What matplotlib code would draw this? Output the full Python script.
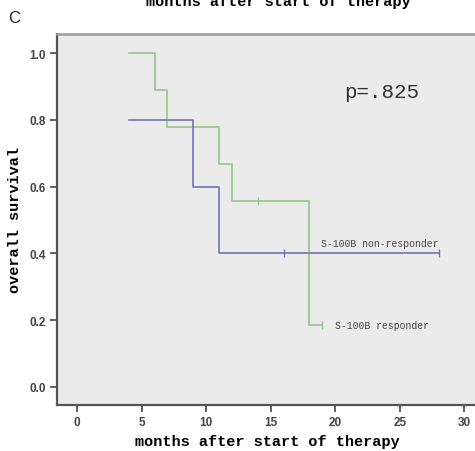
import matplotlib
matplotlib.use("Agg")
import matplotlib.pyplot as plt

# Kaplan-Meier estimates: event times and survival after each step
responder_times = [4, 6, 7, 11, 12, 18]
responder_surv = [1.0, 0.889, 0.778, 0.667, 0.556, 0.185]
responder_censor_t = [14, 19]
responder_censor_s = [0.556, 0.185]

nonresp_times = [4, 9, 11]
nonresp_surv = [0.8, 0.6, 0.4]
nonresp_censor_t = [16, 28]
nonresp_censor_s = [0.4, 0.4]

x_ticks = [0, 5, 10, 15, 20, 25, 30]
y_ticks = [0.0, 0.2, 0.4, 0.6, 0.8, 1.0]
p_label = "p=.825"

green = "#93c985"
blue = "#7373b5"
mono = "Liberation Mono"

fig = plt.figure(figsize=(4.75, 4.52), dpi=100)
ax = fig.add_axes([0.12, 0.1018, 0.885, 0.8208])
ax.set_facecolor("#ebebeb")

# step curves, extended to the last censored observation
ax.step(responder_times + [responder_censor_t[-1]],
        responder_surv + [responder_surv[-1]],
        where="post", color=green, lw=1.2)
ax.step(nonresp_times + [nonresp_censor_t[-1]],
        nonresp_surv + [nonresp_surv[-1]],
        where="post", color=blue, lw=1.2)
ax.plot(responder_censor_t, responder_censor_s, ls="none", marker="|",
        ms=6, mew=1.0, color=green)
ax.plot(nonresp_censor_t, nonresp_censor_s, ls="none", marker="|",
        ms=6, mew=1.0, color=blue)

ax.set_xlim(-1.55, 31.0)
ax.set_ylim(-0.054, 1.057)
ax.set_xticks(x_ticks)
ax.set_yticks(y_ticks)
ax.set_xticklabels([str(t) for t in x_ticks])
ax.set_yticklabels([f"{t:.1f}" for t in y_ticks])
ax.tick_params(direction="out", length=5, width=1.2, color="#444444",
               labelsize=8.5, labelcolor="#444444", pad=3)
for lab in ax.get_xticklabels() + ax.get_yticklabels():
    lab.set_fontweight("bold")
    lab.set_family("Liberation Sans")

for side in ("left", "bottom"):
    ax.spines[side].set_color("#555555")
    ax.spines[side].set_linewidth(1.6)
ax.spines["top"].set_color("#9a9a9a")
ax.spines["top"].set_linewidth(1.8)
ax.spines["right"].set_visible(False)

ax.set_xlabel("months after start of therapy", family=mono,
              fontweight="bold", fontsize=11, labelpad=4)
ax.set_ylabel("overall survival", family=mono, fontweight="bold",
              fontsize=11, labelpad=5)

ax.text(20.7, 0.885, p_label, family=mono, fontsize=15, color="#333333",
        va="center", ha="left")
ax.text(18.9, 0.43, "S-100B non-responder", family=mono, fontsize=7,
        color="#444444", va="center", ha="left")
ax.text(20.0, 0.185, "S-100B responder", family=mono, fontsize=7,
        color="#444444", va="center", ha="left")

# header text from the panel above, and the panel letter
fig.text(0.585, 0.986, "months after start of therapy", family=mono,
         fontweight="bold", fontsize=11, ha="center", va="baseline")
fig.text(0.018, 0.958, "C", family="Liberation Sans", fontsize=12,
         ha="left", va="center", color="#222222")

fig.savefig("out.png", dpi=100, facecolor="white")
